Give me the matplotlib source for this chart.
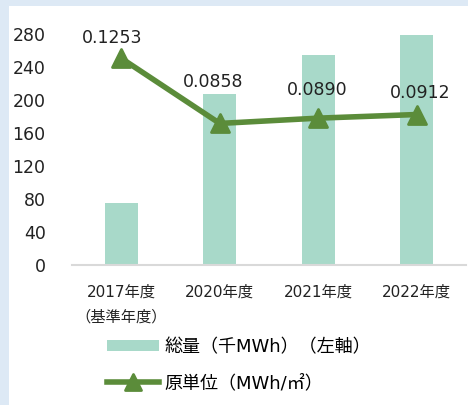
import matplotlib
matplotlib.use('Agg')
import matplotlib.pyplot as plt
from matplotlib.lines import Line2D
from matplotlib.patches import Patch, Rectangle
from matplotlib.markers import MarkerStyle

plt.rcParams['font.family'] = ['DejaVu Sans', 'Noto Sans CJK JP']

# data
categories = ['2017年度\n（基準年度）', '2020年度', '2021年度', '2022年度']
total_mwh = [75, 207, 255, 279]            # 総量（千MWh）
intensity = [0.1253, 0.0858, 0.0890, 0.0912]  # 原単位（MWh/㎡）
intensity_labels = ['0.1253', '0.0858', '0.0890', '0.0912']
y_ticks = [0, 40, 80, 120, 160, 200, 240, 280]

bar_color = '#a8d9c9'
line_color = '#5b8c3a'
bg_color = '#dde9f5'

fig = plt.figure(figsize=(4.68, 4.05), dpi=100)
fig.patch.set_facecolor(bg_color)
# white panel inside the light blue frame
fig.patches.append(Rectangle((9 / 468, 0), 1, 1 - 6 / 405, transform=fig.transFigure,
                             facecolor='white', edgecolor='none', zorder=-5))

ax = fig.add_axes([72 / 468, 1 - 265 / 405, 394 / 468, 231 / 405])
ax.set_facecolor('none')
x = range(len(categories))
ax.bar(x, total_mwh, width=0.33, color=bar_color, zorder=2)
ax.set_xlim(-0.5, len(categories) - 0.5)
ax.set_ylim(0, 280)
ax.set_yticks(y_ticks)
ax.set_yticklabels([str(v) for v in y_ticks], fontsize=12.5, color='#222222')
ax.set_xticks(list(x))
ax.set_xticklabels(categories, fontsize=11, color='#222222', linespacing=1.85, va='top')
ax.tick_params(axis='y', length=0, pad=19)
ax.tick_params(axis='x', length=0, pad=14)
for side in ['top', 'right', 'left']:
    ax.spines[side].set_visible(False)
ax.spines['bottom'].set_color('#d9d9d9')
ax.spines['bottom'].set_linewidth(1.5)

# secondary axis for the intensity line (hidden)
ax2 = ax.twinx()
ax2.set_ylim(0, 0.14)
ax2.axis('off')
tri = MarkerStyle('^', joinstyle='round')
ax2.plot(list(x), intensity, color=line_color, linewidth=4, marker=tri,
         markersize=13, markeredgewidth=2, markeredgecolor=line_color, zorder=3)

label_offsets = [(-9, 20), (-7, 41), (-1, 28), (3, 22)]
for xi, v, txt, off in zip(x, intensity, intensity_labels, label_offsets):
    ax2.annotate(txt, xy=(xi, v), xytext=off, textcoords='offset pixels',
                 ha='center', va='center', fontsize=12.5, color='#222222')

handles = [Patch(facecolor=bar_color, edgecolor='none'),
           Line2D([0], [0], color=line_color, linewidth=4, marker=tri,
                  markersize=11, markeredgewidth=2, markeredgecolor=line_color)]
labels = ['総量（千MWh）（左軸）', '原単位（MWh/㎡）']
fig.legend(handles, labels, loc='upper left', bbox_to_anchor=(107 / 468, 1 - 338 / 405),
           frameon=False, fontsize=13, handlelength=2.9, handleheight=0.6,
           handletextpad=0.3, labelspacing=1.0, borderpad=0, borderaxespad=0,
           numpoints=1)

fig.savefig('out.png', dpi=100, facecolor=fig.get_facecolor())
